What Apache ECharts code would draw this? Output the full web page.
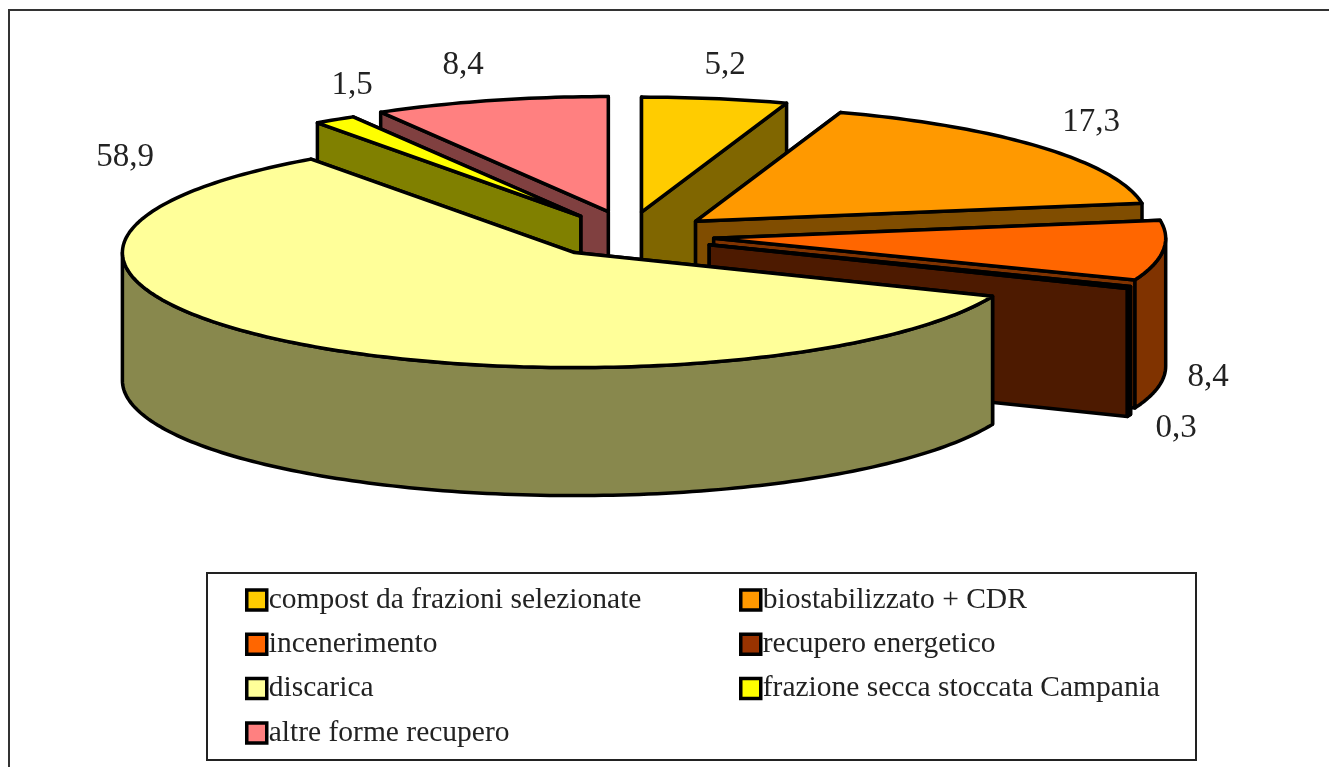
<!DOCTYPE html>
<html>
<head>
<meta charset="utf-8">
<title>Pie</title>
<script src="https://cdn.jsdelivr.net/npm/echarts@6/dist/echarts.min.js"></script>
<style>
html,body{margin:0;padding:0;background:#fff;}
#main{width:1329px;height:767px;}
</style>
</head>
<body>
<div id="main"></div>
<script>
var categories = ['compost da frazioni selezionate','biostabilizzato + CDR','incenerimento','recupero energetico','discarica','frazione secca stoccata Campania','altre forme recupero'];
var values = [5.2,17.3,8.4,0.3,58.9,1.5,8.4];
var topColors = ['#FFCC00','#FF9900','#FF6600','#993300','#FFFF99','#FFFF00','#FF8080'];
var sideColors = ['#806600','#804D00','#803300','#4D1A00','#88884D','#808000','#804040'];
// back to front
var drawOrder = [0,6,5,1,2,3,4];

var cx = 628, cy = 233, rx = 452, ry = 115, depth = 128, explode = 0.184;
// small hand nudges, the original is not quite a clean ellipse
var nudge = [[0,0],[4,2],[3,3],[4,4],[-2,3],[-2,1],[2,-1]];

var total = 0;
var starts = [];
for(var i=0;i<values.length;i++){
	starts.push(total);
	total += values[i];
}

function pt(ox,oy,ang,r,h){
	return [ox + rx*r*Math.sin(ang), oy - ry*r*Math.cos(ang) + h];
}

function arc(ox,oy,a0,a1,h){
	var pts = [];
	var n = Math.max(2,Math.ceil((a1-a0)/0.02));
	for(var k=0;k<=n;k++){
		pts.push(pt(ox,oy,a0+(a1-a0)*k/n,1,h));
	}
	return pts;
}

function poly(points,fill){
	return {
		type:'polygon',
		shape:{points:points},
		style:{fill:fill,stroke:'#000',lineWidth:3.5,lineJoin:'round'}
	};
}

function renderSlice(params,api){
	var idx = api.value(2);
	var a0 = api.value(0)/total*Math.PI*2;
	var a1 = a0 + api.value(1)/total*Math.PI*2;
	var mid = (a0+a1)/2;
	var ox = cx + rx*explode*Math.sin(mid) + nudge[idx][0];
	var oy = cy - ry*explode*Math.cos(mid) + nudge[idx][1];
	var side = sideColors[idx];
	var kids = [];

	// cut faces, the far one first
	var faces = Math.cos(a0)>Math.cos(a1) ? [a0,a1] : [a1,a0];
	faces.forEach(function(a){
		var p = pt(ox,oy,a,1,0);
		kids.push(poly([[ox,oy],p,[p[0],p[1]+depth],[ox,oy+depth]],side));
	});
	// front part of the rim
	var f0 = Math.max(a0,Math.PI/2), f1 = Math.min(a1,Math.PI*1.5);
	if(f1>f0){
		var up = arc(ox,oy,f0,f1,0);
		var down = arc(ox,oy,f0,f1,depth).reverse();
		kids.push(poly(up.concat(down),side));
	}
	// top
	kids.push(poly([[ox,oy]].concat(arc(ox,oy,a0,a1,0)),topColors[idx]));
	return {type:'group',children:kids};
}

var seriesList = drawOrder.map(function(idx){
	return {
		type:'custom',
		name:categories[idx],
		coordinateSystem:'none',
		renderItem:renderSlice,
		itemStyle:{color:topColors[idx]},
		data:[[starts[idx],values[idx],idx]],
		silent:true,
		animation:false
	};
});

var labelAt = [[725,65],[1091,122],[1208,377],[1176,428],[125,157],[352,85],[463,65]];
var graphics = [
	{type:'line',shape:{x1:8,y1:10,x2:1329,y2:10},style:{stroke:'#333',lineWidth:2}},
	{type:'line',shape:{x1:9,y1:10,x2:9,y2:767},style:{stroke:'#333',lineWidth:2}},
	{type:'rect',shape:{x:207,y:573,width:989,height:187},style:{fill:'#fff',stroke:'#222',lineWidth:2},z:-1}
];
values.forEach(function(v,i){
	graphics.push({
		type:'text',
		x:labelAt[i][0],
		y:labelAt[i][1],
		style:{
			text:v.toFixed(1).replace('.',','),
			font:'33px "Liberation Serif"',
			fill:'#222',
			align:'center',
			verticalAlign:'middle'
		}
	});
});

function legendCol(names,left){
	return {
		orient:'vertical',
		left:left,
		top:580,
		itemWidth:20,
		itemHeight:20,
		itemGap:14.3,
		icon:'rect',
		selectedMode:false,
		data:names,
		itemStyle:{borderColor:'#000',borderWidth:3.5},
		textStyle:{fontFamily:'Liberation Serif',fontSize:29.5,color:'#222',padding:[0,0,0,-3]}
	};
}

var myChart = echarts.init(document.getElementById('main'));
myChart.setOption({
	backgroundColor:'#fff',
	animation:false,
	legend:[
		legendCol([categories[0],categories[2],categories[4],categories[6]],240),
		legendCol([categories[1],categories[3],categories[5]],734)
	],
	graphic:{elements:graphics},
	series:seriesList
});
</script>
</body>
</html>
